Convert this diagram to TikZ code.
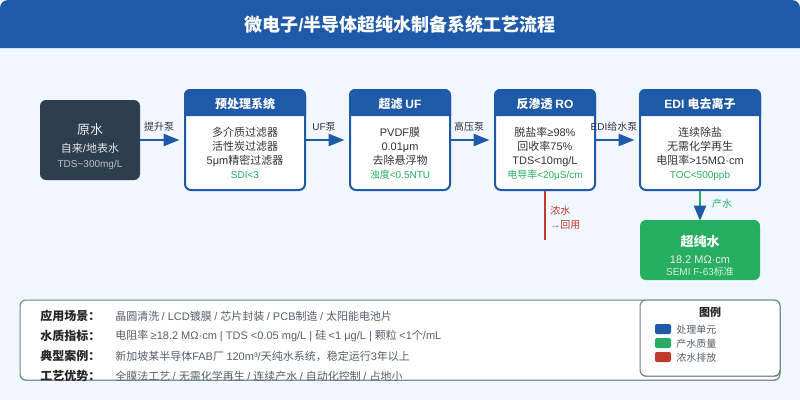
\documentclass[tikz,border=0pt]{standalone}
\usepackage{fontspec}
\usetikzlibrary{arrows.meta}
\setmainfont{Liberation Sans}
\newfontfamily\cjk{Noto Sans CJK SC}

% CJK runs switch font on their own
\newXeTeXintercharclass\cjkclass
\newcount\cjkchar
\cjkchar="4E00
\loop \XeTeXcharclass\cjkchar=\cjkclass \advance\cjkchar 1 \ifnum\cjkchar<"A000 \repeat
\cjkchar="FF00
\loop \XeTeXcharclass\cjkchar=\cjkclass \advance\cjkchar 1 \ifnum\cjkchar<"FFF0 \repeat
\XeTeXinterchartokenstate=1
\XeTeXinterchartoks 0 \cjkclass={\cjk}
\XeTeXinterchartoks 4095 \cjkclass={\cjk}
\XeTeXinterchartoks \cjkclass 0={\rmfamily}
\XeTeXinterchartoks 4095 0={\rmfamily}

\definecolor{unitblue}{HTML}{1E5AA8}
\definecolor{rawslate}{HTML}{2C3E50}
\definecolor{goodgreen}{HTML}{27AE60}
\definecolor{brinered}{HTML}{C0392B}
\definecolor{pagebg}{HTML}{F0F7FF}
\definecolor{panelline}{HTML}{708090}
\definecolor{bodytext}{HTML}{333333}
\definecolor{notetext}{HTML}{555F6B}

\def\px{0.75pt}
\newcommand{\fs}[2]{\fontsize{#1}{#2}\selectfont}

\tikzset{
  unitbox/.style={draw=unitblue, fill=white, line width=2*\px, rounded corners=6*\px,
    minimum height=100*\px, inner sep=0pt},
  unithead/.style={anchor=base, text=white, font=\fs{9pt}{11pt}\bfseries, inner sep=0pt},
  unitbody/.style={anchor=base, text=bodytext, font=\fs{8.25pt}{10.5pt}, align=center, inner sep=0pt},
  spectext/.style={anchor=base, text=goodgreen, font=\fs{7.5pt}{9pt}, inner sep=0pt},
  pumptext/.style={anchor=base, text=bodytext, font=\fs{7.5pt}{9pt}, inner sep=0pt},
  flow/.style={unitblue, line width=2.5*\px, -{Triangle[length=16*\px, width=12*\px]}, shorten >=4.5*\px},
  panel/.style={draw=panelline, line width=1*\px, rounded corners=6*\px, inner sep=0pt},
  rowkey/.style={anchor=west, text=black!85, font=\fs{9pt}{11pt}\bfseries, inner sep=0pt},
  rowval/.style={anchor=west, text=notetext, font=\fs{8.25pt}{10pt}, inner sep=0pt},
  swatch/.style={minimum width=16*\px, minimum height=10*\px, rounded corners=2*\px, inner sep=0pt},
  swatchtext/.style={anchor=west, text=notetext, font=\fs{7.5pt}{9pt}, inner sep=0pt}
}

\begin{document}
\begin{tikzpicture}[x=0.75pt, y=-0.75pt]
  \useasboundingbox (0,0) rectangle (800,400);
  \fill[pagebg] (0,8) rectangle (800,400);
  \fill[unitblue] (0,48) [rounded corners=8*\px] -- (0,0) -- (800,0) [sharp corners] -- (800,48) -- cycle;
  \node[text=white, font=\fs{13.5pt}{16pt}\bfseries, inner sep=0pt] (title) at (400,25) {微电子/半导体超纯水制备系统工艺流程};

  % source
  \node[fill=rawslate, rounded corners=6*\px, minimum width=100*\px, minimum height=80*\px, inner sep=0pt] (raw) at (90,140) {};
  \node[text=white!93!black, font=\fs{9.75pt}{12pt}, inner sep=0pt] (rawname) at (90,130) {原水};
  \node[text=white!90!black, font=\fs{8.25pt}{10pt}, inner sep=0pt] (rawkind) at (90,148) {自来/地表水};
  \node[text=white!75!black, font=\fs{7.5pt}{9pt}, inner sep=0pt] (rawtds) at (90,165) {TDS\textasciitilde 300mg/L};

  % treatment units
  \node[unitbox, minimum width=120*\px] (pre) at (245,140) {};
  \fill[unitblue] (pre.west |- 0,116) [rounded corners=6*\px] -- (pre.north west) -- (pre.north east) [sharp corners] -- (pre.east |- 0,116) -- cycle;
  \node[unithead] (prehead) at (245,108) {预处理系统};
  \node[unitbody] (prebody) at (245,164) {多介质过滤器\\活性炭过滤器\\5μm精密过滤器};
  \node[spectext] (prespec) at (245,178) {SDI<3};

  \node[unitbox, minimum width=100*\px] (uf) at (400,140) {};
  \fill[unitblue] (uf.west |- 0,116) [rounded corners=6*\px] -- (uf.north west) -- (uf.north east) [sharp corners] -- (uf.east |- 0,116) -- cycle;
  \node[unithead] (ufhead) at (400,108) {超滤 UF};
  \node[unitbody] (ufbody) at (400,164) {PVDF膜\\0.01μm\\去除悬浮物};
  \node[spectext] (ufspec) at (400,178) {浊度<0.5NTU};

  \node[unitbox, minimum width=100*\px] (ro) at (545,140) {};
  \fill[unitblue] (ro.west |- 0,116) [rounded corners=6*\px] -- (ro.north west) -- (ro.north east) [sharp corners] -- (ro.east |- 0,116) -- cycle;
  \node[unithead] (rohead) at (545,108) {反渗透 RO};
  \node[unitbody] (robody) at (545,164) {脱盐率≥98\%\\回收率75\%\\TDS<10mg/L};
  \node[spectext] (rospec) at (545,178) {电导率<20μS/cm};

  \node[unitbox, minimum width=120*\px] (edi) at (700,140) {};
  \fill[unitblue] (edi.west |- 0,116) [rounded corners=6*\px] -- (edi.north west) -- (edi.north east) [sharp corners] -- (edi.east |- 0,116) -- cycle;
  \node[unithead] (edihead) at (700,108) {EDI 电去离子};
  \node[unitbody] (edibody) at (700,164) {连续除盐\\无需化学再生\\电阻率>15MΩ·cm};
  \node[spectext] (edispec) at (700,178) {TOC<500ppb};

  % product
  \node[fill=goodgreen, rounded corners=6*\px, minimum width=120*\px, minimum height=60*\px, inner sep=0pt] (pure) at (700,250) {};
  \node[text=white, font=\fs{9.75pt}{12pt}\bfseries, inner sep=0pt] (purename) at (700,241) {超纯水};
  \node[text=white!93!black, font=\fs{8.25pt}{10pt}, inner sep=0pt] (pureres) at (700,260) {18.2 MΩ·cm};
  \node[text=white!80!goodgreen, font=\fs{7.5pt}{9pt}, inner sep=0pt] (puresemi) at (700,272) {SEMI F-63标准};

  % connectors
  \draw[flow] (raw.east) -- (pre.west);
  \draw[flow] (pre.east) -- (uf.west);
  \draw[flow] (uf.east) -- (ro.west);
  \draw[flow] (ro.east) -- (edi.west);
  \node[pumptext] (pump1) at (159,130.5) {提升泵};
  \node[pumptext] (pump2) at (324,130.5) {UF泵};
  \node[pumptext] (pump3) at (469,130.5) {高压泵};
  \node[pumptext] (pump4) at (614,130.5) {EDI给水泵};

  \draw[goodgreen, line width=2*\px, shorten >=-1*\px, -{Triangle[length=15*\px, width=12*\px, color=unitblue]}] (edi.south) -- (pure.north);
  \node[text=goodgreen, font=\fs{7.5pt}{9pt}, inner sep=0pt] (purelabel) at (722,204) {产水};

  \coordinate (brineend) at (545,240);
  \draw[brinered, line width=1.5*\px] (ro.south) -- (brineend);
  \node[anchor=west, text=brinered, font=\fs{7.5pt}{9pt}, inner sep=0pt] (brine1) at (550,211) {浓水};
  \node[anchor=west, text=brinered, font=\fs{7.5pt}{9pt}, inner sep=0pt] (brine2) at (550,225) {→回用};

  % notes
  \fill[panelline, rounded corners=6*\px] (20,301) rectangle (780,380.7);
  \node[panel, fill=white, minimum width=760*\px, minimum height=80*\px] (notes) at (400,340) {};
  \node[rowkey] (key1) at (40,316) {应用场景：};
  \node[rowval] (val1) at (115,316) {晶圆清洗 / LCD镀膜 / 芯片封装 / PCB制造 / 太阳能电池片};
  \node[rowkey] (key2) at (40,336) {水质指标：};
  \node[rowval] (val2) at (115,336) {电阻率 ≥18.2 MΩ·cm | TDS <0.05 mg/L | 硅 <1 μg/L | 颗粒 <1个/mL};
  \node[rowkey] (key3) at (40,356) {典型案例：};
  \node[rowval] (val3) at (115,356) {新加坡某半导体FAB厂 120m³/天纯水系统，稳定运行3年以上};
  \node[rowkey] (key4) at (40,376) {工艺优势：};
  \node[rowval] (val4) at (115,376) {全膜法工艺 / 无需化学再生 / 连续产水 / 自动化控制 / 占地小};

  % legend
  \fill[panelline, rounded corners=6*\px] (640,302) rectangle (780.7,376.7);
  \node[panel, fill=white, minimum width=140*\px, minimum height=76*\px] (legend) at (710,338) {};
  \node[text=black!85, font=\fs{8.25pt}{10pt}\bfseries, inner sep=0pt] (legendtitle) at (710,312) {图例};
  \node[swatch, fill=unitblue] (sw1) at (663,329) {};
  \node[swatchtext] (sw1text) at (676,330) {处理单元};
  \node[swatch, fill=goodgreen] (sw2) at (663,343) {};
  \node[swatchtext] (sw2text) at (676,344) {产水质量};
  \node[swatch, fill=brinered] (sw3) at (663,357) {};
  \node[swatchtext] (sw3text) at (676,358) {浓水排放};
\end{tikzpicture}
\end{document}
